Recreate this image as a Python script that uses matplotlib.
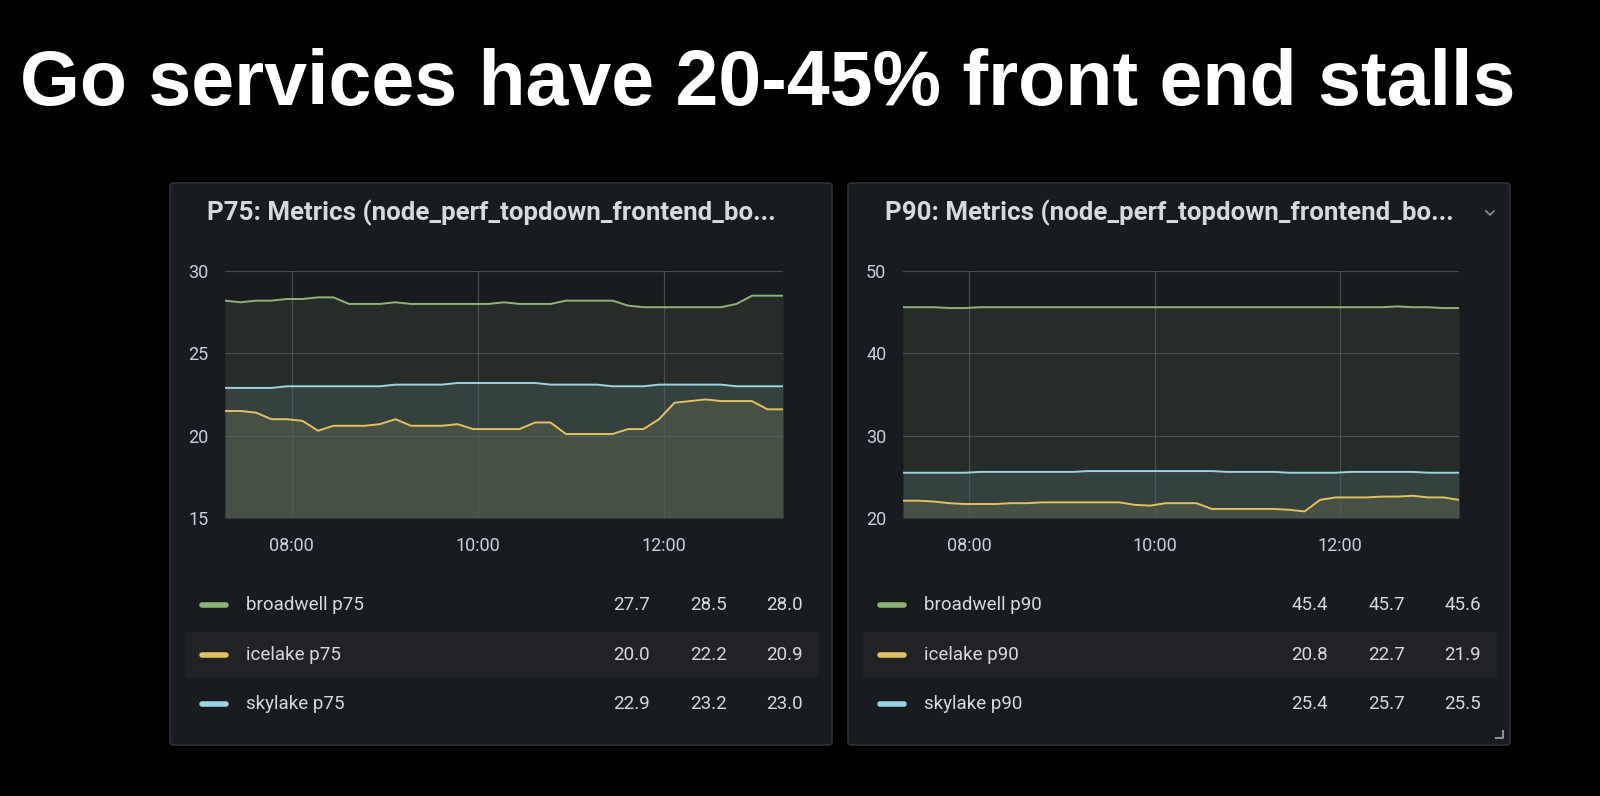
import matplotlib
matplotlib.use("Agg")
import matplotlib.pyplot as plt
import numpy as np
from matplotlib.patches import FancyBboxPatch, Rectangle
from matplotlib.lines import Line2D

plt.rcParams['font.family'] = ['Liberation Sans', 'DejaVu Sans']

title = "Go services have 20-45% front end stalls"
start_min = 437  # 07:17
step_min = 10
bw75 = [28.2,28.1,28.2,28.2,28.3,28.3,28.4,28.4,28.0,28.0,28.0,28.1,28.0,28.0,28.0,28.0,28.0,28.0,28.1,28.0,28.0,28.0,28.2,28.2,28.2,28.2,27.9,27.8,27.8,27.8,27.8,27.8,27.8,28.0,28.5,28.5,28.5]
ic75 = [21.5,21.5,21.4,21.0,21.0,20.9,20.3,20.6,20.6,20.6,20.7,21.0,20.6,20.6,20.6,20.7,20.4,20.4,20.4,20.4,20.8,20.8,20.1,20.1,20.1,20.1,20.4,20.4,21.0,22.0,22.1,22.2,22.1,22.1,22.1,21.6,21.6]
sk75 = [22.9,22.9,22.9,22.9,23.0,23.0,23.0,23.0,23.0,23.0,23.0,23.1,23.1,23.1,23.1,23.2,23.2,23.2,23.2,23.2,23.2,23.1,23.1,23.1,23.1,23.0,23.0,23.0,23.1,23.1,23.1,23.1,23.1,23.0,23.0,23.0,23.0]
bw90 = [45.6,45.6,45.6,45.5,45.5,45.6,45.6,45.6,45.6,45.6,45.6,45.6,45.6,45.6,45.6,45.6,45.6,45.6,45.6,45.6,45.6,45.6,45.6,45.6,45.6,45.6,45.6,45.6,45.6,45.6,45.6,45.6,45.7,45.6,45.6,45.5,45.5]
ic90 = [22.1,22.1,22.0,21.8,21.7,21.7,21.7,21.8,21.8,21.9,21.9,21.9,21.9,21.9,21.9,21.6,21.5,21.8,21.8,21.8,21.1,21.1,21.1,21.1,21.1,21.0,20.8,22.2,22.5,22.5,22.5,22.6,22.6,22.7,22.5,22.5,22.2]
sk90 = [25.5,25.5,25.5,25.5,25.5,25.6,25.6,25.6,25.6,25.6,25.6,25.6,25.7,25.7,25.7,25.7,25.7,25.7,25.7,25.7,25.7,25.6,25.6,25.6,25.6,25.5,25.5,25.5,25.5,25.6,25.6,25.6,25.6,25.6,25.5,25.5,25.5]

panel_titles = ["P75: Metrics (node_perf_topdown_frontend_bo...", "P90: Metrics (node_perf_topdown_frontend_bo..."]
legend_names = [["broadwell p75", "icelake p75", "skylake p75"], ["broadwell p90", "icelake p90", "skylake p90"]]
legend_vals = [[["27.7","28.5","28.0"],["20.0","22.2","20.9"],["22.9","23.2","23.0"]],
               [["45.4","45.7","45.6"],["20.8","22.7","21.9"],["25.4","25.7","25.5"]]]
yticks = [[15, 20, 25, 30], [20, 30, 40, 50]]
xtick_hours = [8, 10, 12]
xtick_labels = ["08:00", "10:00", "12:00"]
colors = ["#8fb574", "#e3c160", "#9dd3e6"]

W, H = 1600, 796
fig = plt.figure(figsize=(16, 7.96), dpi=100, facecolor="black")

def fx(x): return x / W
def fy(y): return 1 - y / H

fig.text(fx(20), fy(84), title, color="white", fontsize=55.5, fontweight="bold", va="center", ha="left")

t = (start_min + step_min * np.arange(len(bw75))) / 60.0
series = [[bw75, ic75, sk75], [bw90, ic90, sk90]]
panels = [(170, 832, 225, 783), (848, 1510, 903, 1459)]

for p, (px0, px1, ax0, ax1) in enumerate(panels):
    bg = fig.add_axes([0, 0, 1, 1], zorder=0)
    bg.set_xlim(0, W); bg.set_ylim(H, 0); bg.axis("off")
    bg.add_patch(FancyBboxPatch((px0, 183), px1 - px0, 562, boxstyle="round,pad=0,rounding_size=3",
                                facecolor="#181b1f", edgecolor="#2c2f35", lw=1.2))
    bg.text(px0 + 37, 213, panel_titles[p], color="#d8d9da", fontsize=18.6, fontweight="semibold",
            ha="left", va="center", family=["Roboto", "DejaVu Sans"])
    rows = [605, 655, 704]
    bg.add_patch(Rectangle((px0 + 15, 632), px1 - px0 - 28, 46, facecolor="#202226", edgecolor="none"))
    for r, y in enumerate(rows):
        bg.add_line(Line2D([px0 + 32, px0 + 56], [y, y], color=colors[r], lw=4, solid_capstyle="round"))
        bg.text(px0 + 76, y, legend_names[p][r], color="#d8d9da", fontsize=13.5, va="center", ha="left",
                family=["Roboto", "DejaVu Sans"])
        for c, xv in enumerate([px0 + 480, px0 + 557, px0 + 633]):
            bg.text(xv, y, legend_vals[p][r][c], color="#d8d9da", fontsize=13.5, va="center", ha="right",
                    family=["Roboto", "DejaVu Sans"])
    if p == 1:
        bg.add_line(Line2D([1486, 1490, 1494], [211, 215, 211], color="#8e8e8e", lw=1.2))
        bg.add_line(Line2D([1496, 1503, 1503], [738, 738, 731], color="#8e8e8e", lw=1.5))

    ax = fig.add_axes([fx(ax0), fy(518), fx(ax1 - ax0), (518 - 271) / H], zorder=1)
    ax.set_facecolor("none")
    ymin, ymax = yticks[p][0], yticks[p][-1]
    for r, v in enumerate(series[p]):
        ax.fill_between(t, v, ymin, color=colors[r], alpha=0.12, lw=0)
        ax.plot(t, v, color=colors[r], lw=1.4)
    ax.set_xlim(t[0], t[-1])
    ax.set_ylim(ymin, ymax)
    ax.set_yticks(yticks[p])
    ax.set_xticks(xtick_hours)
    ax.set_xticklabels(xtick_labels)
    ax.grid(True, color="#5a5d62", lw=0.9, alpha=0.7)
    for s in ax.spines.values():
        s.set_visible(False)
    ax.tick_params(colors="#c7d0d9", labelsize=13, length=0, pad=14)
    ax.tick_params(axis="y", pad=12)
    for lab in ax.get_xticklabels() + ax.get_yticklabels():
        lab.set_family(["Roboto", "DejaVu Sans"])

fig.savefig("out.png", dpi=100, facecolor="black")
